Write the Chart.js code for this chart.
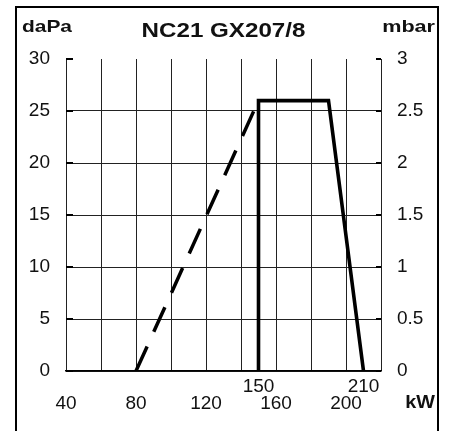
<!DOCTYPE html>
<html>
<head>
<meta charset="utf-8">
<script src="https://cdn.jsdelivr.net/npm/chart.js@4/dist/chart.umd.min.js"></script>
<style>
  html, body { margin: 0; padding: 0; background: #fff; }
  canvas { display: block; }
</style>
</head>
<body>
<canvas id="c" width="449" height="431"></canvas>
<script>
// ---- data ----
const title = 'NC21 GX207/8';
const leftUnit = 'daPa';
const rightUnit = 'mbar';
const xUnit = 'kW';

const dashedX = [80, 150];
const dashedY = [0, 26];
const solidX = [150, 150, 190, 210];
const solidY = [0, 26, 26, 0];

const xGridTicks = [40, 60, 80, 100, 120, 140, 160, 180, 200, 220];
const xLowerLabels = [40, 80, 120, 160, 200];
const xUpperLabels = [150, 210];
const yLeftTicks = [0, 5, 10, 15, 20, 25, 30];
const yRightTicks = [0, 0.5, 1, 1.5, 2, 2.5, 3];

const toPts = (xs, ys) => xs.map((x, i) => ({ x: x, y: ys[i] }));

const frameAndText = {
  id: 'frameAndText',
  afterDraw(chart) {
    const ctx = chart.ctx;
    const ca = chart.chartArea;
    ctx.save();
    // outer frame
    ctx.strokeStyle = '#000';
    ctx.lineWidth = 2;
    ctx.beginPath();
    ctx.moveTo(16, 440);
    ctx.lineTo(16, 7);
    ctx.lineTo(438, 7);
    ctx.lineTo(438, 440);
    ctx.stroke();
    // inward tick marks on both y edges
    const ys = chart.scales.y;
    ctx.lineWidth = 2;
    yLeftTicks.forEach(v => {
      const p = Math.round(ys.getPixelForValue(v));
      ctx.beginPath();
      ctx.moveTo(ca.left, p);
      ctx.lineTo(ca.left + 7, p);
      ctx.moveTo(ca.right - 5, p);
      ctx.lineTo(ca.right, p);
      ctx.stroke();
    });
    // bold texts (horizontally stretched like the reference)
    ctx.fillStyle = '#111';
    ctx.textBaseline = 'alphabetic';
    function txt(s, x, y, size, sx, align) {
      ctx.save();
      ctx.font = 'bold ' + size + 'px "Liberation Sans", Arial, sans-serif';
      ctx.textAlign = align;
      ctx.translate(x, y);
      ctx.scale(sx, 1);
      ctx.fillText(s, 0, 0);
      ctx.restore();
    }
    txt(leftUnit, 22, 31.5, 17, 1.23, 'left');
    txt(title, 223.5, 36.5, 21, 1.15, 'center');
    txt(rightUnit, 435, 31.5, 17, 1.27, 'right');
    txt(xUnit, 435, 408, 18, 1.1, 'right');
    ctx.restore();
  }
};

const tickFont = { family: '"Liberation Sans", Arial, sans-serif', size: 19 };

new Chart(document.getElementById('c'), {
  type: 'scatter',
  data: {
    datasets: [
      {
        data: toPts(dashedX, dashedY),
        showLine: true,
        borderColor: '#000',
        borderWidth: 3.5,
        borderDash: [27, 16],
        pointRadius: 0,
        yAxisID: 'y'
      },
      {
        data: toPts(solidX, solidY),
        showLine: true,
        borderColor: '#000',
        borderWidth: 3.6,
        borderJoinStyle: 'miter',
        pointRadius: 0,
        yAxisID: 'y'
      }
    ]
  },
  options: {
    responsive: false,
    animation: false,
    devicePixelRatio: 1,
    layout: { padding: { top: 59, left: 0, right: 0, bottom: 0 } },
    plugins: { legend: { display: false }, tooltip: { enabled: false }, title: { display: false } },
    scales: {
      x: {
        type: 'linear',
        min: 40,
        max: 220,
        afterBuildTicks(scale) {
          const vals = xGridTicks.concat(xUpperLabels).sort((a, b) => a - b);
          scale.ticks = vals.map(v => ({ value: v }));
        },
        afterFit(scale) { scale.height = 60; },
        grid: {
          drawTicks: false,
          color: ctx => (ctx.tick && xGridTicks.includes(ctx.tick.value)) ? '#222' : 'rgba(0,0,0,0)',
          lineWidth: 1
        },
        border: { display: true, color: '#000', width: 1.5 },
        ticks: {
          autoSkip: false,
          maxRotation: 0,
          padding: 7,
          color: '#111',
          font: Object.assign({}, tickFont, { lineHeight: 0.91 }),
          callback: v => xUpperLabels.includes(v) ? [String(v), ''] :
                        (xLowerLabels.includes(v) ? ['', String(v)] : '')
        }
      },
      y: {
        type: 'linear',
        position: 'left',
        min: 0,
        max: 30,
        afterBuildTicks(scale) { scale.ticks = yLeftTicks.map(v => ({ value: v })); },
        afterFit(scale) { scale.width = 66; },
        grid: {
          drawTicks: false,
          color: ctx => (ctx.tick && ctx.tick.value === 30) ? 'rgba(0,0,0,0)' : '#222',
          lineWidth: 1
        },
        border: { display: false },
        ticks: { padding: 16, color: '#111', font: tickFont, callback: v => String(v) }
      },
      y2: {
        type: 'linear',
        position: 'right',
        min: 0,
        max: 3,
        afterBuildTicks(scale) { scale.ticks = yRightTicks.map(v => ({ value: v })); },
        afterFit(scale) { scale.width = 68; },
        grid: { display: false, drawTicks: false },
        border: { display: false },
        ticks: { padding: 16, color: '#111', font: tickFont, callback: v => String(v) }
      }
    }
  },
  plugins: [frameAndText]
});
</script>
</body>
</html>
